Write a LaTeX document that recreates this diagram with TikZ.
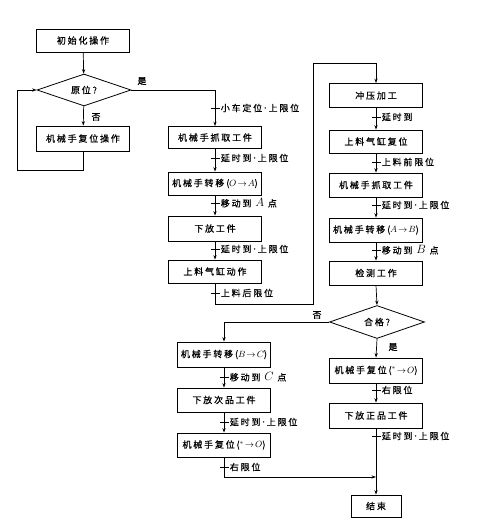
\documentclass[tikz,border=0pt]{standalone}
\usepackage{fontspec}
\newfontfamily\cjk{Noto Sans CJK SC}[LetterSpace=20,FakeBold=0.6]
\usetikzlibrary{shapes.geometric,arrows.meta}
\newcommand\mdot{\kern0.6pt\raisebox{0.35ex}{\rmfamily\fontsize{5}{5}\selectfont\textbullet}\kern0.6pt}
\tikzset{
  txt/.style={font=\cjk\fontsize{9}{10}\selectfont},
  box/.style={draw, line width=0.8pt, minimum height=23pt, minimum width=93pt, inner sep=1pt, txt},
  dia/.style={draw, diamond, aspect=2.9, minimum width=94pt, minimum height=32pt, inner sep=0pt, line width=0.8pt, txt},
  conn/.style={line width=0.7pt},
  arr/.style={conn, -{Stealth[length=4.5pt,width=3.2pt]}},
  tk/.style={line width=0.7pt},
  lbl/.style={txt, anchor=west, inner sep=1pt},
  yn/.style={txt, inner sep=0pt},
}
\begin{document}
\begin{tikzpicture}[x=1pt,y=-1pt]
\useasboundingbox (0,0) rectangle (483,526);
% left top
\node[box] (init) at (83,40.5) {初始化操作};
\node[dia] (d1) at (84,90) {原位?};
\node[box, minimum height=25pt] (reset) at (83,138.5) {机械手复位操作};
% column A
\node[box, minimum height=22pt] (grab1) at (215,137.5) {机械手抓取工件};
\node[box] (moveOA) at (215,183.5) {机械手转移($O\!\rightarrow\!A$)};
\node[box, minimum height=25pt] (put) at (215,228.5) {下放工件};
\node[box] (cyl) at (215,271.5) {上料气缸动作};
% column B
\node[box, minimum height=24pt] (press) at (376,95.5) {冲压加工};
\node[box] (cylreset) at (376,141.5) {上料气缸复位};
\node[box, minimum height=24pt] (grab2) at (376,185) {机械手抓取工件};
\node[box, minimum height=24pt] (moveAB) at (376,230) {机械手转移($A\!\rightarrow\! B$)};
\node[box, minimum height=24pt] (detect) at (376,273) {检测工作};
\node[dia, minimum width=95pt, minimum height=33pt] (d2) at (377,322) {合格?};
\node[box, minimum height=25pt] (resetR) at (376,370.5) {机械手复位(${}^{*}\!\rightarrow\! O$)};
\node[box, minimum height=25pt] (putgood) at (376,415.5) {下放正品工件};
\node[box, minimum width=50pt, minimum height=22pt] (end) at (376,506) {结束};
% column C
\node[box, minimum height=25pt] (moveBC) at (224,354.5) {机械手转移($B\!\rightarrow\! C$)};
\node[box, minimum height=24pt] (putbad) at (224,400) {下放次品工件};
\node[box, minimum height=24pt] (resetL) at (224,445) {机械手复位(${}^{*}\!\rightarrow\! O$)};

% connectors
\draw[arr] (init) -- (d1);
\draw[arr] (d1.east) -| (grab1.north);
\node[yn] (yes1) at (142,81) {是};
\draw[arr] (d1) -- (reset);
\node[yn] (no1) at (96,117) {否};
\draw[arr] (reset.south) |- (17,170) |- (d1.west);
\draw[arr] (grab1) -- (moveOA);
\draw[arr] (moveOA) -- (put);
\draw[arr] (put) -- (cyl);
\draw[arr] (cyl.south) |- (313,304) -- (313,63) -| (press.north);
\draw[arr] (press) -- (cylreset);
\draw[arr] (cylreset) -- (grab2);
\draw[arr] (grab2) -- (moveAB);
\draw[arr] (moveAB) -- (detect);
\draw[arr] (detect.south) -- (d2.north);
\draw[arr] (d2.west) -| (moveBC.north);
\node[yn] (no2) at (317,315) {否};
\draw[arr] (d2.south) -- (resetR.north);
\node[yn] (yes2) at (393,347) {是};
\draw[arr] (resetR) -- (putgood);
\draw[arr] (putgood) -- (end);
\draw[arr] (moveBC) -- (putbad);
\draw[arr] (putbad) -- (resetL);
\coordinate (j) at (putgood.south |- 0,477);
\draw[arr] (resetL.south) |- (j);

% ticks
\foreach \n/\x/\y/\t in {
  k1/215/108/{小车定位\mdot 上限位},
  k2/215/158/{延时到\mdot 上限位},
  k3/215/203/{移动到 {\large$A$} 点},
  k4/215/249/{延时到\mdot 上限位},
  k5/215/293/{上料后限位},
  k6/376/117/{延时到},
  k7/376/162/{上料前限位},
  k8/376/205/{延时到\mdot 上限位},
  k9/376/250/{移动到 {\large$B$} 点},
  k10/376/390/{右限位},
  k11/376/436/{延时到\mdot 上限位},
  k12/224/377/{移动到 {\large$C$} 点},
  k13/224/422/{延时到\mdot 上限位},
  k14/224/467/{右限位}} {
  \coordinate (\n) at (\x,\y);
  \draw[tk] ([xshift=-4.5pt]\n) -- ([xshift=4.5pt]\n) node[lbl] (\n l) {\t};
}
\end{tikzpicture}
\end{document}
